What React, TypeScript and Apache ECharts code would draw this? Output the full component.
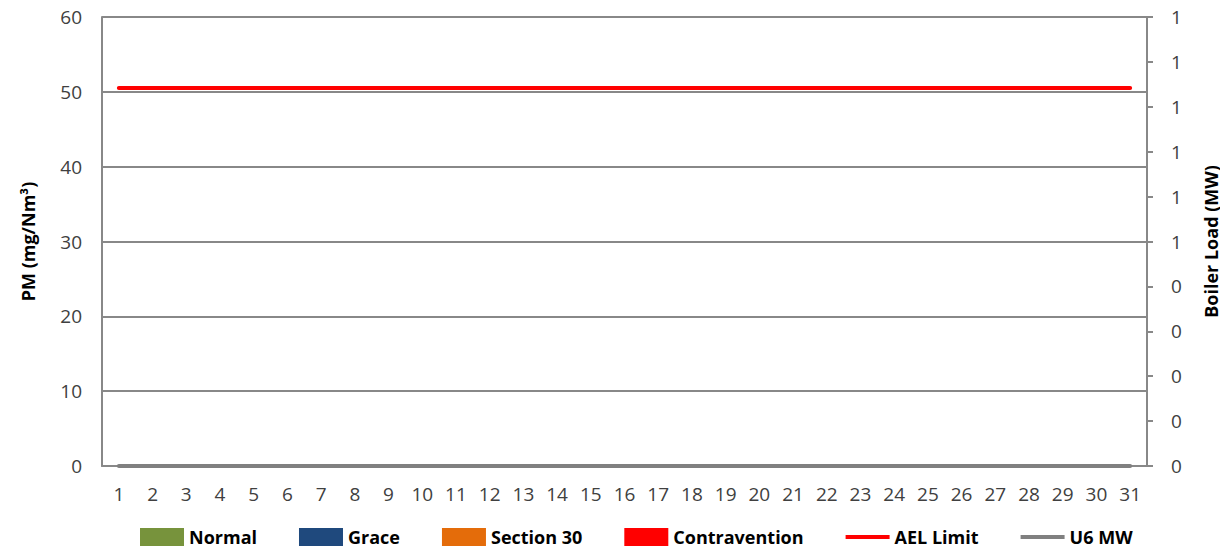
import React, { useEffect, useRef } from "react";
import * as echarts from "echarts";

const days = Array.from({ length: 31 }, (_, i) => String(i + 1));
const normal = [0,0,0,0,0,0,0,0,0,0,0,0,0,0,0,0,0,0,0,0,0,0,0,0,0,0,0,0,0,0,0];
const grace = [0,0,0,0,0,0,0,0,0,0,0,0,0,0,0,0,0,0,0,0,0,0,0,0,0,0,0,0,0,0,0];
const section30 = [0,0,0,0,0,0,0,0,0,0,0,0,0,0,0,0,0,0,0,0,0,0,0,0,0,0,0,0,0,0,0];
const contravention = [0,0,0,0,0,0,0,0,0,0,0,0,0,0,0,0,0,0,0,0,0,0,0,0,0,0,0,0,0,0,0];
const aelLimit = [50.5,50.5,50.5,50.5,50.5,50.5,50.5,50.5,50.5,50.5,50.5,50.5,50.5,50.5,50.5,50.5,50.5,50.5,50.5,50.5,50.5,50.5,50.5,50.5,50.5,50.5,50.5,50.5,50.5,50.5,50.5];
const u6mw = [0,0,0,0,0,0,0,0,0,0,0,0,0,0,0,0,0,0,0,0,0,0,0,0,0,0,0,0,0,0,0];

const FONT = "'Open Sans', 'Noto Sans', sans-serif";
const TICK_FONT = "'Open Sans', 'Noto Sans', sans-serif";

export default function App() {
  const ref = useRef<HTMLDivElement>(null);
  useEffect(() => {
    if (!ref.current) return;
    const chart = echarts.init(ref.current, undefined, { renderer: "svg" });
    const axisLabel = { color: "#404040", fontSize: 19, fontFamily: TICK_FONT };
    chart.setOption({
      animation: false,
      grid: { left: 102, right: 78, top: 17, bottom: 94, containLabel: false },
      legend: {
        bottom: 9,
        left: 135,
        itemWidth: 44,
        itemHeight: 18,
        itemGap: 42,
        textStyle: { fontFamily: FONT, fontWeight: "bold", fontSize: 18, color: "#000" },
        data: [
          { name: "Normal", icon: "rect" },
          { name: "Grace", icon: "rect" },
          { name: "Section 30", icon: "rect" },
          { name: "Contravention", icon: "rect" },
          { name: "AEL Limit", icon: "path://M0,0 L44,0 L44,4 L0,4 Z" },
          { name: "U6 MW", icon: "path://M0,0 L44,0 L44,4 L0,4 Z" },
        ],
      },
      xAxis: {
        type: "category",
        data: days,
        boundaryGap: true,
        axisLine: { show: true, lineStyle: { color: "#888", width: 2 } },
        axisTick: { show: false },
        axisLabel: { ...axisLabel, margin: 18, interval: 0 },
      },
      yAxis: [
        {
          type: "value",
          min: 0,
          max: 60,
          interval: 10,
          name: "PM (mg/Nm³)",
          nameLocation: "middle",
          nameGap: 65,
          nameTextStyle: { fontFamily: FONT, fontWeight: "bold", fontSize: 18, color: "#000" },
          axisLine: { show: true, lineStyle: { color: "#888", width: 2 } },
          axisTick: { show: false },
          splitLine: { show: true, lineStyle: { color: "#888", width: 2 } },
          axisLabel: { ...axisLabel, margin: 20 },
        },
        {
          type: "value",
          min: 0,
          max: 1,
          interval: 0.1,
          position: "right",
          name: "Boiler Load (MW)",
          nameLocation: "middle",
          nameGap: 55,
          nameRotate: 90,
          nameTextStyle: { fontFamily: FONT, fontWeight: "bold", fontSize: 18, color: "#000" },
          axisLine: { show: true, lineStyle: { color: "#888", width: 2 } },
          axisTick: { show: true, length: 6, lineStyle: { color: "#888", width: 2 } },
          splitLine: { show: false },
          axisLabel: { ...axisLabel, margin: 24, formatter: (v: number) => String(Math.round(v)) },
        },
      ],
      series: [
        { name: "Normal", type: "bar", stack: "s", data: normal, itemStyle: { color: "#77933C" } },
        { name: "Grace", type: "bar", stack: "s", data: grace, itemStyle: { color: "#1F497D" } },
        { name: "Section 30", type: "bar", stack: "s", data: section30, itemStyle: { color: "#E46C0A" } },
        { name: "Contravention", type: "bar", stack: "s", data: contravention, itemStyle: { color: "#FF0000" } },
        {
          name: "AEL Limit",
          type: "line",
          data: aelLimit,
          symbol: "none",
          itemStyle: { color: "#FF0000" },
          lineStyle: { color: "#FF0000", width: 4, cap: "round" },
        },
        {
          name: "U6 MW",
          type: "line",
          yAxisIndex: 1,
          data: u6mw,
          symbol: "none",
          itemStyle: { color: "#808080" },
          lineStyle: { color: "#808080", width: 4, cap: "round" },
        },
      ],
    });
    return () => chart.dispose();
  }, []);
  return <div ref={ref} style={{ width: 1228, height: 560, margin: -8 }} />;
}
